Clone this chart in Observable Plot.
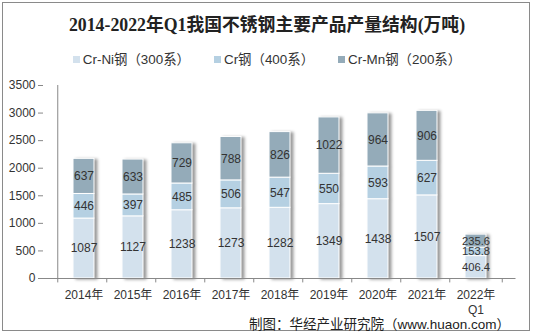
<!DOCTYPE html>
<html><head><meta charset="utf-8">
<script src="https://cdn.jsdelivr.net/npm/d3@7"></script>
<script src="https://cdn.jsdelivr.net/npm/@observablehq/plot@0.6"></script>
<style>
body{margin:0;background:#fff;}
#wrap{position:relative;width:534px;height:336px;overflow:hidden;background:#fff;font-family:"Liberation Sans",Arial,"Noto Sans CJK SC",sans-serif;color:#333;}
#frame{position:absolute;left:2px;top:2px;width:528px;height:329px;border:1px solid #8a8a8a;box-sizing:border-box;}
#title{position:absolute;left:0;width:534px;top:10px;text-align:center;font-family:"Liberation Serif","Noto Sans CJK SC",serif;font-weight:bold;font-size:17.8px;color:#222;}
#legend{position:absolute;left:0;width:534px;top:48px;text-align:center;font-size:13.4px;color:#333;}
#legend span.item{display:inline-block;margin:0 12px;}
#legend i{display:inline-block;width:7px;height:7px;margin-right:3px;vertical-align:1px;}
#chart{position:absolute;left:0;top:70px;}
#caption{position:absolute;right:24px;top:313px;font-size:13.5px;color:#222;}
</style>
</head><body>
<div id="wrap">
<div id="frame"></div>
<div id="title">2014-2022年Q1我国不锈钢主要产品产量结构(万吨)</div>
<div id="legend"></div>
<div id="chart"></div>
<div id="caption">制图：华经产业研究院（www.huaon.com）</div>
</div>
<script>
const years = ["2014年","2015年","2016年","2017年","2018年","2019年","2020年","2021年","2022年\nQ1"];
const series = ["Cr-Ni钢（300系）","Cr钢（400系）","Cr-Mn钢（200系）"];
const crNi = [1087,1127,1238,1273,1282,1349,1438,1507,406.4];
const cr   = [446,397,485,506,547,550,593,627,153.8];
const crMn = [637,633,729,788,826,1022,964,906,235.6];
const colors = ["#d3e1ed","#b5d0e2","#94abb9"];
const yTicks = [0,500,1000,1500,2000,2500,3000,3500];

const data = [];
[crNi, cr, crMn].forEach((arr, si) => arr.forEach((v, i) => data.push({year: years[i], series: series[si], value: v})));

// legend
const lg = document.getElementById("legend");
series.forEach((s, i) => {
  const sp = document.createElement("span"); sp.className = "item";
  sp.innerHTML = `<i style="background:${colors[i]}"></i>${s}`;
  lg.appendChild(sp);
});

const lastYear = years[years.length - 1];
const bw = (534 - 43 - 18.5) / years.length;
const chart = Plot.plot({
  width: 534, height: 250,
  marginTop: 15, marginBottom: 42, marginLeft: 43, marginRight: 18.5,
  style: {fontFamily: '"Liberation Sans",Arial,"Noto Sans CJK SC",sans-serif', fontSize: "12px", color: "#333", background: "transparent"},
  x: {domain: years, padding: 0.58, label: null},
  y: {domain: [0, 3500], label: null},
  color: {domain: series, range: colors},
  marks: [
    Plot.barY(data, {x: "year", y: "value", fill: "series", stroke: "white", strokeWidth: 1, order: series}),
    Plot.text(data.filter(d => d.year !== lastYear), Plot.stackY({x: "year", y: "value", z: "series", order: series, text: d => String(d.value), fill: "#333", fontSize: 12})),
    Plot.text(data, Plot.stackY({x: "year", y: "value", z: "series", order: series, filter: d => d.year === lastYear, text: d => String(d.value), fill: "#333", fontSize: 11.2})),
    Plot.ruleY([0], {stroke: "#888"}),
    Plot.ruleX(years, {x: d => d, dx: -bw/2, y1: 0, y2: -80, stroke: "#888"}),
    Plot.ruleX(years.slice(-1), {x: d => d, dx: bw/2, y1: 0, y2: -80, stroke: "#888"}),
    Plot.ruleX(years.slice(0,1), {x: d => d, dx: -bw/2, y1: 0, y2: 3500, stroke: "#888"}),
    Plot.axisY({ticks: yTicks, tickSize: 5, tickPadding: 3, stroke: "#888", fontSize: 12, tickFormat: d => String(d)}),
    Plot.axisX({tickSize: 0, tickPadding: 10, fontSize: 12, lineHeight: 1.25})
  ]
});
document.getElementById("chart").appendChild(chart);
d3.select(chart).selectAll('g[aria-label="bar"]').style("filter", "drop-shadow(3px 1px 1.5px rgba(0,0,0,0.4))");
d3.select(chart).selectAll('g[aria-label="y-axis tick label"] text, g[aria-label="x-axis tick label"] text').attr("fill", "#333");
</script>
</body></html>
